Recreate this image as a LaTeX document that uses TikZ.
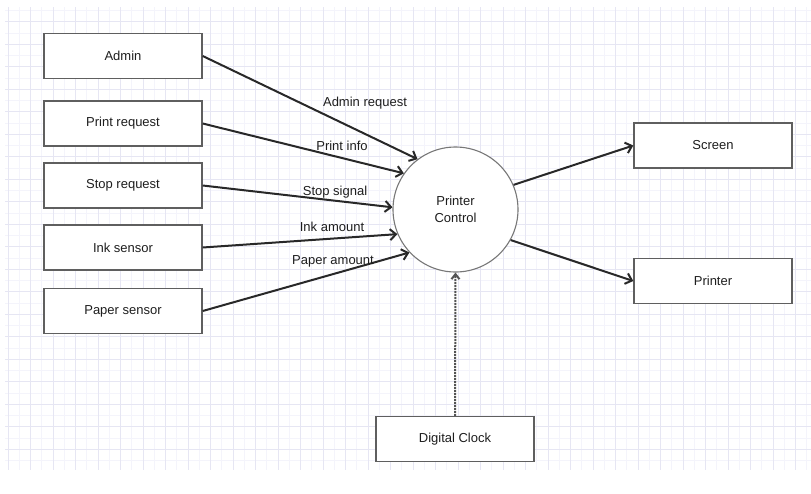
\documentclass[tikz,border=0pt]{standalone}
\usepackage{fontspec}
\setmainfont{Liberation Sans}
\usetikzlibrary{arrows.meta}
\definecolor{gridmajor}{RGB}{230,230,243}
\definecolor{gridminor}{RGB}{244,244,251}
\definecolor{boxline}{RGB}{95,95,95}
\definecolor{arrowcol}{RGB}{40,40,40}
\definecolor{textcol}{RGB}{30,30,30}
\begin{document}
\begin{tikzpicture}[x=1pt,y=-1pt,
  box/.style={draw=boxline, line width=1.4pt, fill=white, minimum width=158pt, minimum height=45pt, inner sep=0pt, font=\fontsize{13}{15}\selectfont, text=textcol},
  proc/.style={circle, draw=boxline!85, line width=1.1pt, fill=white, minimum size=125pt, inner sep=0pt, align=center, font=\fontsize{13}{16.5}\selectfont, text=textcol},
  flow/.style={draw=arrowcol, line width=2pt, -{Straight Barb[length=6pt,width=11pt]}},
  clockflow/.style={draw=arrowcol!80, line width=2pt, densely dotted, -{Straight Barb[length=5pt,width=8pt]}},
  lbl/.style={inner sep=0pt, font=\fontsize{13}{15}\selectfont, text=textcol}]
\useasboundingbox (0,0) rectangle (811,493);
\fill[white] (0,0) rectangle (811,493);
% grid
\foreach \i in {0,...,71} \draw[gridminor, line width=0.6pt] ({8+11.25*\i},7) -- ({8+11.25*\i},470);
\foreach \i in {0,...,40} \draw[gridminor, line width=0.6pt] (5,{10.45+11.25*\i}) -- (811,{10.45+11.25*\i});
\foreach \i in {0,...,35} \draw[gridmajor, line width=0.8pt] ({8+22.5*\i},7) -- ({8+22.5*\i},470);
\foreach \i in {0,...,19} \draw[gridmajor, line width=0.8pt] (5,{21.7+22.5*\i}) -- (811,{21.7+22.5*\i});
% nodes
\node[box] (admin) at (123,56) {Admin};
\node[box] (printreq) at (123,123.5) {Print request};
\node[box] (stopreq) at (123,185.5) {Stop request};
\node[box] (ink) at (123,247.5) {Ink sensor};
\node[box] (paper) at (123,311) {Paper sensor};
\node[box] (screen) at (713,145.5) {Screen};
\node[box] (printer) at (713,281) {Printer};
\node[box] (clock) at (455,439) {Digital Clock};
\node[proc] (pc) at (455.5,209.5) {Printer\\Control};
% flows
\draw[flow] (admin.east) -- (pc.127.6);
\draw[flow] (printreq.east) -- (pc.145.7);
\draw[flow] (stopreq.east) -- (pc.178.6);
\draw[flow] (ink.east) -- (pc.203.8);
\draw[flow] (paper.east) -- (pc.223);
\draw[flow] (pc.23) -- (screen.west);
\draw[flow] (pc.-29.5) -- (printer.west);
\draw[clockflow] (clock.north) -- (pc.south);
% labels
\node[lbl] (ladmin) at (365,103) {Admin request};
\node[lbl] (lprint) at (342,146) {Print info};
\node[lbl] (lstop) at (335,192) {Stop signal};
\node[lbl] (link) at (332,227) {Ink amount};
\node[lbl] (lpaper) at (333,261) {Paper amount};
\end{tikzpicture}
\end{document}
